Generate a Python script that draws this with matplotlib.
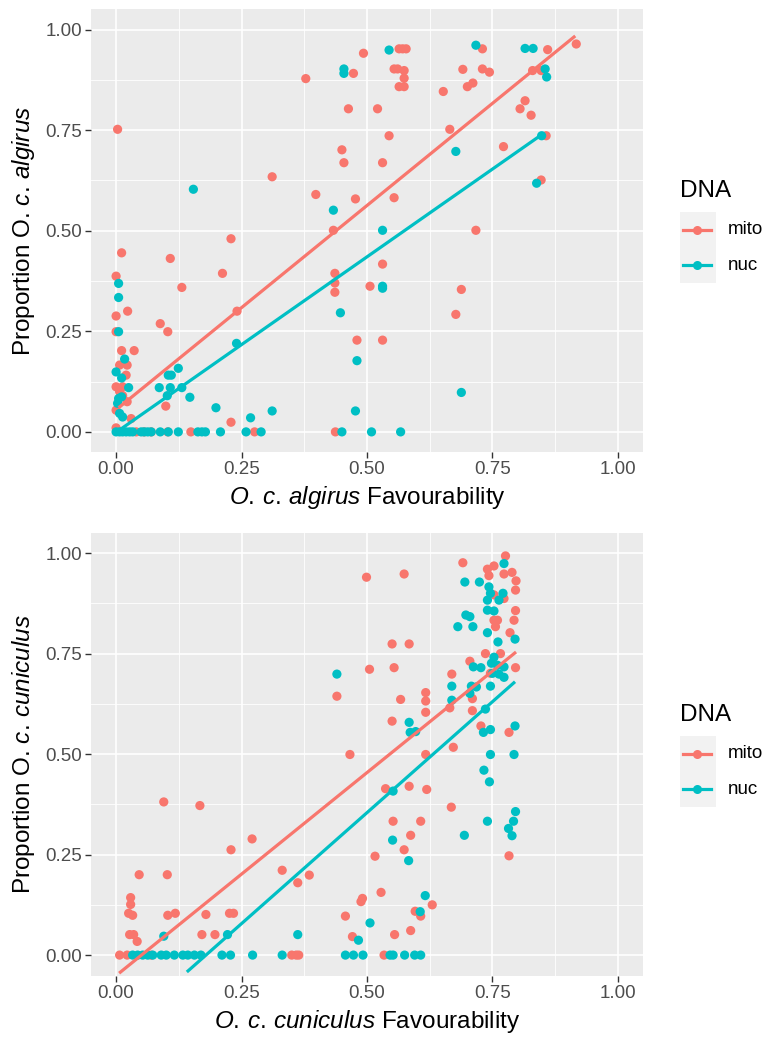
import numpy as np
import matplotlib
matplotlib.use("Agg")
import matplotlib.pyplot as plt
from matplotlib.lines import Line2D
from matplotlib.patches import Rectangle

plt.rcParams["font.family"] = ["Liberation Sans", "DejaVu Sans"]
plt.rcParams["mathtext.fontset"] = "custom"
plt.rcParams["mathtext.rm"] = "Liberation Sans"
plt.rcParams["mathtext.it"] = "Liberation Sans:italic"

MITO = "#F8766D"
NUC = "#00BFC4"
W, H = 766, 1037

# ── data: (favourability, proportion) ──────────────────────────────
ALG_MITO = np.array([
    (0.378, 0.878), (0.493, 0.941), (0.473, 0.891), (0.463, 0.803), (0.521, 0.803),
    (0.564, 0.952), (0.571, 0.952), (0.578, 0.952), (0.554, 0.902), (0.561, 0.902),
    (0.574, 0.898), (0.574, 0.879), (0.564, 0.858), (0.574, 0.858), (0.730, 0.952),
    (0.691, 0.901), (0.730, 0.902), (0.744, 0.894), (0.652, 0.846), (0.700, 0.858),
    (0.711, 0.867), (0.860, 0.950), (0.830, 0.898), (0.847, 0.898), (0.815, 0.823),
    (0.805, 0.803), (0.827, 0.787), (0.857, 0.736), (0.847, 0.626), (0.665, 0.752),
    (0.772, 0.709), (0.717, 0.501), (0.544, 0.736), (0.450, 0.701), (0.454, 0.669),
    (0.531, 0.669), (0.398, 0.590), (0.477, 0.579), (0.554, 0.582), (0.433, 0.501),
    (0.531, 0.417), (0.436, 0.394), (0.436, 0.370), (0.436, 0.347), (0.506, 0.362),
    (0.688, 0.354), (0.677, 0.292), (0.480, 0.228), (0.531, 0.228), (0.437, 0.000),
    (0.917, 0.964), (0.003, 0.752), (0.311, 0.634), (0.229, 0.480), (0.011, 0.445),
    (0.108, 0.431), (0.000, 0.387), (0.212, 0.394), (0.131, 0.359), (0.000, 0.288),
    (0.023, 0.300), (0.088, 0.269), (0.103, 0.249), (0.000, 0.249), (0.011, 0.202),
    (0.036, 0.202), (0.007, 0.166), (0.022, 0.166), (0.020, 0.141), (0.000, 0.112),
    (0.013, 0.112), (0.007, 0.100), (0.013, 0.090), (0.022, 0.075), (0.000, 0.054),
    (0.030, 0.033), (0.099, 0.064), (0.229, 0.024), (0.241, 0.300), (0.000, 0.010),
    (0.149, 0.000), (0.056, 0.000), (0.070, 0.000), (0.276, 0.000), (0.040, 0.000),
    (0.103, 0.000),
])
ALG_NUC = np.array([
    (0.454, 0.902), (0.454, 0.891), (0.544, 0.949), (0.717, 0.961), (0.815, 0.953),
    (0.831, 0.953), (0.855, 0.902), (0.858, 0.882), (0.848, 0.736), (0.838, 0.618),
    (0.433, 0.551), (0.531, 0.501), (0.531, 0.362), (0.531, 0.357), (0.677, 0.697),
    (0.447, 0.296), (0.480, 0.177), (0.688, 0.098), (0.477, 0.052), (0.450, 0.000),
    (0.509, 0.000), (0.567, 0.000), (0.154, 0.603), (0.005, 0.369), (0.005, 0.334),
    (0.005, 0.249), (0.017, 0.181), (0.000, 0.149), (0.011, 0.134), (0.025, 0.110),
    (0.005, 0.083), (0.011, 0.087), (0.003, 0.071), (0.007, 0.046), (0.013, 0.037),
    (0.104, 0.141), (0.110, 0.141), (0.124, 0.158), (0.086, 0.110), (0.108, 0.110),
    (0.131, 0.110), (0.102, 0.090), (0.147, 0.086), (0.199, 0.060), (0.268, 0.035),
    (0.311, 0.052), (0.240, 0.220), (0.000, 0.000), (0.007, 0.000), (0.013, 0.000),
    (0.020, 0.000), (0.027, 0.000), (0.033, 0.000), (0.050, 0.000), (0.056, 0.000),
    (0.063, 0.000), (0.070, 0.000), (0.088, 0.000), (0.104, 0.000), (0.124, 0.000),
    (0.163, 0.000), (0.171, 0.000), (0.178, 0.000), (0.208, 0.000), (0.259, 0.000),
    (0.289, 0.000),
])
CUN_MITO = np.array([
    (0.499, 0.940), (0.505, 0.711), (0.440, 0.644), (0.466, 0.499), (0.574, 0.948),
    (0.691, 0.976), (0.776, 0.993), (0.753, 0.968), (0.740, 0.960), (0.743, 0.944),
    (0.773, 0.948), (0.789, 0.952), (0.797, 0.931), (0.796, 0.908), (0.753, 0.896),
    (0.773, 0.887), (0.796, 0.857), (0.793, 0.833), (0.753, 0.833), (0.760, 0.833),
    (0.756, 0.817), (0.785, 0.802), (0.550, 0.774), (0.584, 0.774), (0.736, 0.750),
    (0.766, 0.750), (0.705, 0.731), (0.554, 0.715), (0.796, 0.715), (0.746, 0.701),
    (0.669, 0.699), (0.617, 0.653), (0.617, 0.632), (0.617, 0.604), (0.567, 0.636),
    (0.665, 0.615), (0.710, 0.638), (0.710, 0.608), (0.550, 0.582), (0.727, 0.570),
    (0.783, 0.554), (0.672, 0.517), (0.617, 0.499), (0.584, 0.420), (0.619, 0.412),
    (0.537, 0.414), (0.668, 0.368), (0.552, 0.333), (0.607, 0.333), (0.587, 0.298),
    (0.574, 0.262), (0.783, 0.247), (0.630, 0.125), (0.596, 0.109), (0.607, 0.097),
    (0.587, 0.061), (0.555, 0.051), (0.534, 0.000), (0.516, 0.246), (0.385, 0.199),
    (0.528, 0.156), (0.491, 0.141), (0.488, 0.133), (0.457, 0.097), (0.471, 0.046),
    (0.095, 0.381), (0.167, 0.372), (0.271, 0.289), (0.229, 0.262), (0.046, 0.200),
    (0.102, 0.200), (0.331, 0.211), (0.362, 0.180), (0.029, 0.143), (0.029, 0.126),
    (0.025, 0.104), (0.033, 0.099), (0.103, 0.099), (0.118, 0.104), (0.179, 0.101),
    (0.226, 0.104), (0.234, 0.104), (0.027, 0.051), (0.035, 0.051), (0.042, 0.034),
    (0.171, 0.051), (0.197, 0.051), (0.007, 0.000), (0.022, 0.000), (0.070, 0.000),
    (0.350, 0.000), (0.359, 0.000), (0.364, 0.000),
])
CUN_NUC = np.array([
    (0.440, 0.699), (0.773, 0.974), (0.695, 0.928), (0.724, 0.928), (0.743, 0.916),
    (0.746, 0.900), (0.771, 0.900), (0.763, 0.883), (0.740, 0.883), (0.740, 0.858),
    (0.753, 0.856), (0.697, 0.846), (0.705, 0.842), (0.681, 0.817), (0.711, 0.817),
    (0.740, 0.802), (0.761, 0.779), (0.795, 0.786), (0.753, 0.741), (0.748, 0.726),
    (0.760, 0.721), (0.750, 0.701), (0.763, 0.699), (0.773, 0.691), (0.773, 0.717),
    (0.727, 0.715), (0.712, 0.717), (0.669, 0.669), (0.708, 0.669), (0.718, 0.667),
    (0.746, 0.669), (0.705, 0.651), (0.669, 0.634), (0.736, 0.612), (0.584, 0.579),
    (0.586, 0.554), (0.597, 0.556), (0.732, 0.554), (0.746, 0.561), (0.795, 0.570),
    (0.746, 0.499), (0.793, 0.499), (0.733, 0.460), (0.744, 0.431), (0.552, 0.408),
    (0.796, 0.357), (0.792, 0.333), (0.740, 0.333), (0.782, 0.315), (0.789, 0.297),
    (0.551, 0.286), (0.694, 0.298), (0.583, 0.235), (0.616, 0.148), (0.606, 0.108),
    (0.506, 0.080), (0.483, 0.037), (0.546, 0.000), (0.552, 0.000), (0.575, 0.000),
    (0.595, 0.000), (0.607, 0.000), (0.457, 0.000), (0.473, 0.000), (0.492, 0.000),
    (0.095, 0.047), (0.222, 0.051), (0.362, 0.051), (0.033, 0.000), (0.043, 0.000),
    (0.053, 0.000), (0.063, 0.000), (0.073, 0.000), (0.090, 0.000), (0.100, 0.000),
    (0.116, 0.000), (0.133, 0.000), (0.143, 0.000), (0.156, 0.000), (0.169, 0.000),
    (0.211, 0.000), (0.228, 0.000), (0.272, 0.000), (0.331, 0.000),
])

# fitted lines (start / end)
ALG_MITO_FIT = ([0.005, 0.915], [0.060, 0.984])
ALG_NUC_FIT = ([0.006, 0.853], [0.004, 0.743])
CUN_MITO_FIT = ([0.006, 0.797], [-0.045, 0.754])
CUN_NUC_FIT = ([0.141, 0.795], [-0.042, 0.680])

TICKS = [0.0, 0.25, 0.5, 0.75, 1.0]
TICK_LABELS = ["0.00", "0.25", "0.50", "0.75", "1.00"]
DNA_LEVELS = ["mito", "nuc"]


def panel(fig, rect, mito, nuc, mito_fit, nuc_fit, xlabel, ylabel, ylim):
    ax = fig.add_axes(rect)
    ax.set_facecolor("#EBEBEB")
    for s in ax.spines.values():
        s.set_visible(False)
    ax.set_xlim(-0.05, 1.05)
    ax.set_ylim(*ylim)
    minor = [0.125, 0.375, 0.625, 0.875]
    for v in minor:
        ax.axvline(v, color="white", lw=0.6, zorder=0)
        ax.axhline(v, color="white", lw=0.6, zorder=0)
    for v in TICKS:
        ax.axvline(v, color="white", lw=1.2, zorder=0)
        ax.axhline(v, color="white", lw=1.2, zorder=0)
    ax.set_xticks(TICKS, TICK_LABELS)
    ax.set_yticks(TICKS, TICK_LABELS)
    ax.tick_params(length=4.5, width=1.0, color="#333333", labelcolor="#4D4D4D",
                   labelsize=13.5, pad=2)

    ax.scatter(mito[:, 0], mito[:, 1], s=44, color=MITO, edgecolors="none", zorder=2)
    ax.scatter(nuc[:, 0], nuc[:, 1], s=44, color=NUC, edgecolors="none", zorder=2)
    ax.plot(*mito_fit, color=MITO, lw=2.3, zorder=3, solid_capstyle="butt")
    ax.plot(*nuc_fit, color=NUC, lw=2.3, zorder=3, solid_capstyle="butt")

    ax.set_xlabel(xlabel, fontsize=17.5, labelpad=4)
    ax.set_ylabel(ylabel, fontsize=17.5, labelpad=6)
    return ax


def legend(fig, top):
    # top = pixel row of the "DNA" title centre
    tr = fig.transFigure
    fig.text(680 / W, 1 - top / H, "DNA", fontsize=17.5, va="center", ha="left")
    key_h = 35.5
    y0 = top + 21
    for i, (lab, col) in enumerate(zip(DNA_LEVELS, [MITO, NUC])):
        yt = y0 + i * key_h
        fig.patches.append(Rectangle((680 / W, 1 - (yt + key_h) / H), 36 / W, key_h / H,
                                     transform=tr, facecolor="#F2F2F2", edgecolor="none"))
        yc = 1 - (yt + key_h / 2) / H
        fig.lines.append(Line2D([683 / W, 711 / W], [yc, yc], transform=tr,
                                color=col, lw=2.3))
        fig.lines.append(Line2D([697 / W], [yc], transform=tr, marker="o",
                                markersize=6.5, color=col, markeredgewidth=0))
        fig.text(728 / W, yc, lab, fontsize=13.5, va="center", ha="left")


fig = plt.figure(figsize=(W / 100, H / 100), dpi=100)

panel(fig, [91 / W, 1 - 452 / H, 552 / W, 443 / H], ALG_MITO, ALG_NUC,
      ALG_MITO_FIT, ALG_NUC_FIT,
      r"$\it{O.\,c.\,algirus}$ Favourability",
      r"Proportion O. $\it{c.\,algirus}$", (-0.05, 1.051))
panel(fig, [91 / W, 1 - 976 / H, 552 / W, 443 / H], CUN_MITO, CUN_NUC,
      CUN_MITO_FIT, CUN_NUC_FIT,
      r"$\it{O.\,c.\,cuniculus}$ Favourability",
      r"Proportion O. $\it{c.\,cuniculus}$", (-0.052, 1.05))

legend(fig, 191)
legend(fig, 715)

fig.savefig("out.png", dpi=100)
